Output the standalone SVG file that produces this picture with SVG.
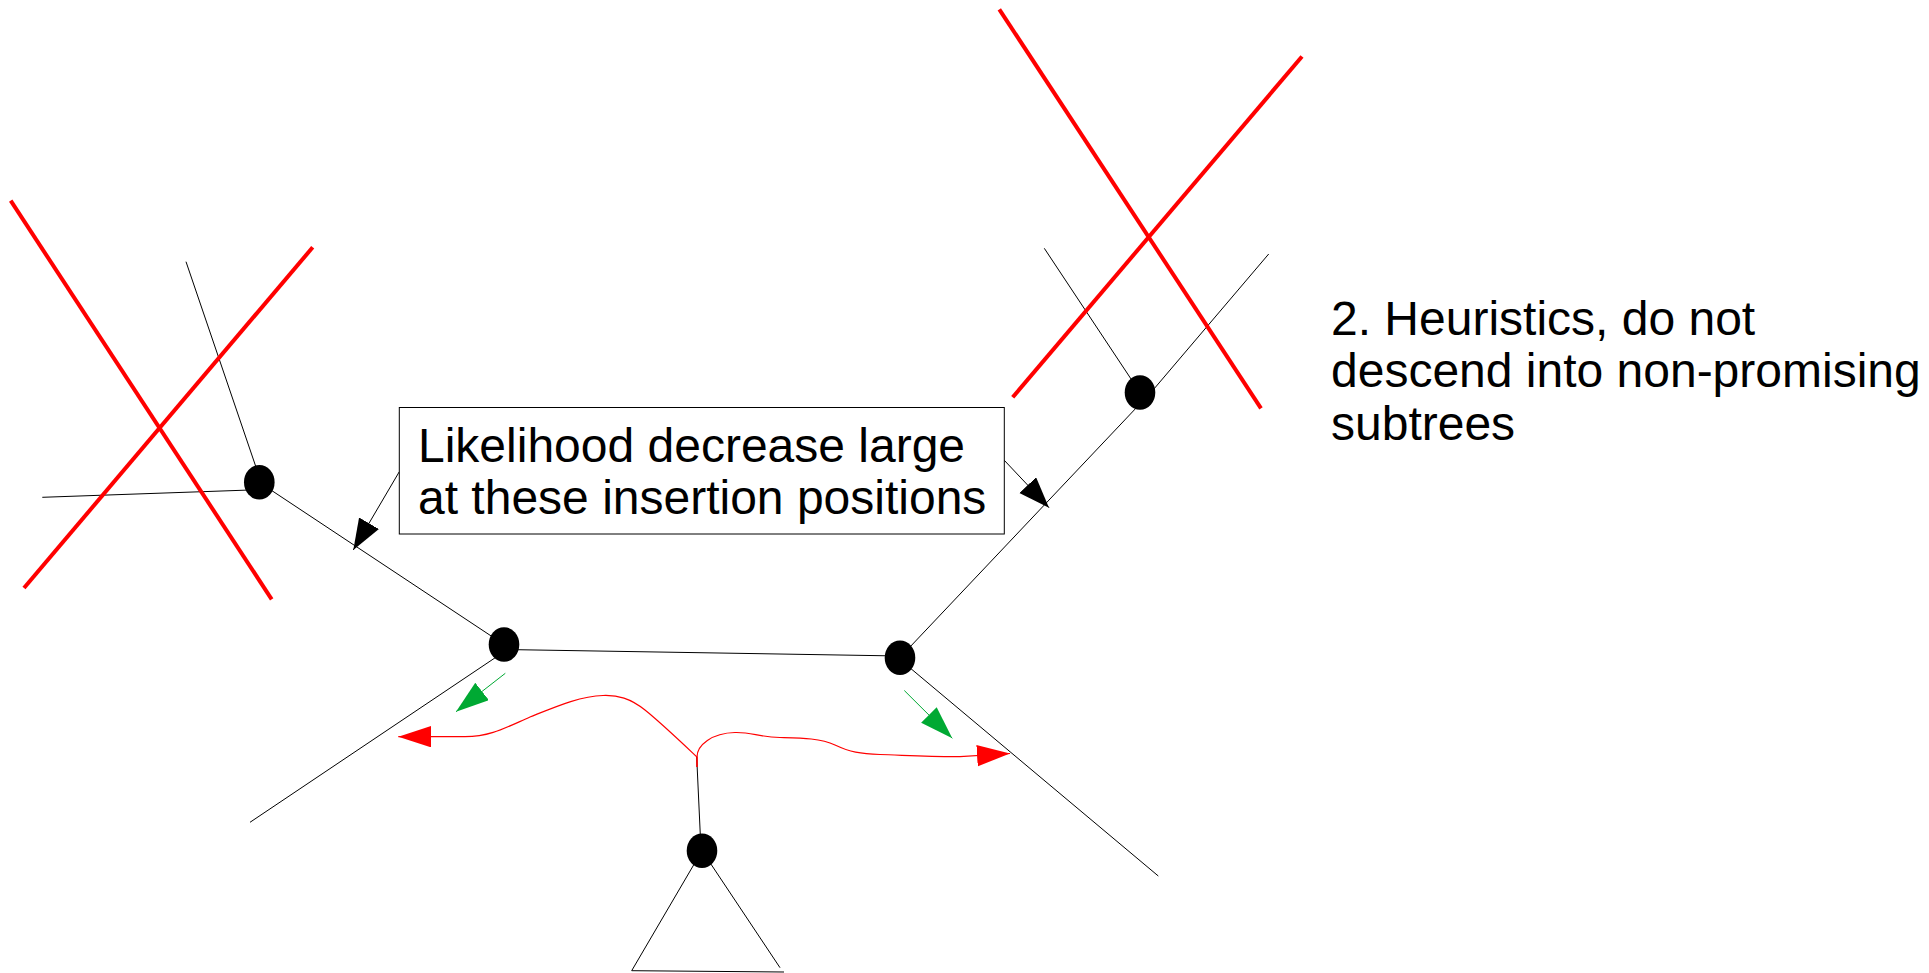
<svg xmlns="http://www.w3.org/2000/svg" width="1929" height="973" viewBox="0 0 1929 973">
  <style>
    .edge { stroke: #000; stroke-width: 1; fill: none; }
    .cross { stroke: #ff0000; stroke-width: 4; fill: none; }
    .node { fill: #000; }
    .label { font-family: "Liberation Sans", Arial, sans-serif; font-size: 48px; fill: #000; }
    .box { fill: #fff; stroke: #000; stroke-width: 1; }
    .pointer { stroke: #000; stroke-width: 1; fill: none; marker-end: url(#headBlack); }
    .move { stroke: #00a933; stroke-width: 1; fill: none; marker-end: url(#headGreen); }
    .path { stroke: #ff0000; stroke-width: 1.2; fill: none; marker-end: url(#headRed); }
  </style>
  <defs>
    <marker id="headBlack" markerUnits="userSpaceOnUse" markerWidth="32" markerHeight="24" refX="31" refY="11.5" orient="auto">
      <path d="M0,0 L31,11.5 L0,23 Z" fill="#000"/>
    </marker>
    <marker id="headGreen" markerUnits="userSpaceOnUse" markerWidth="34" markerHeight="23" refX="33" refY="11" orient="auto">
      <path d="M0,0 L33,11 L0,22 Z" fill="#00a933"/>
    </marker>
    <marker id="headRed" markerUnits="userSpaceOnUse" markerWidth="34" markerHeight="23" refX="33" refY="10.75" orient="auto">
      <path d="M0,0 L33,10.75 L0,21.5 Z" fill="#ff0000"/>
    </marker>
  </defs>

  <rect width="1929" height="973" fill="#fff"/>

  <!-- tree branches -->
  <g id="connectors">
    <line class="edge" x1="186" y1="261.7" x2="259" y2="476"/>
    <line class="edge" x1="42.3" y1="497.3" x2="250" y2="490"/>
    <line class="edge" x1="259.3" y1="482.3" x2="504" y2="644.5"/>
    <line class="edge" x1="505" y1="649.5" x2="900" y2="656"/>
    <line class="edge" x1="500" y1="654.5" x2="250" y2="822.3"/>
    <line class="edge" x1="900" y1="657.5" x2="1138" y2="406"/>
    <line class="edge" x1="900" y1="659.5" x2="1158.3" y2="876"/>
    <line class="edge" x1="1044.3" y1="248.3" x2="1140" y2="392.5"/>
    <line class="edge" x1="1150" y1="393.6" x2="1268.7" y2="254"/>
    <line class="edge" x1="701" y1="850" x2="696.7" y2="757"/>
    <line class="edge" x1="702" y1="850.7" x2="631.7" y2="970.7"/>
    <line class="edge" x1="702" y1="850.7" x2="780" y2="967.7"/>
    <line class="edge" x1="631.7" y1="970.7" x2="784" y2="972"/>

    <!-- callout pointers -->
    <line class="pointer" x1="399.3" y1="471.7" x2="353.3" y2="550"/>
    <line class="pointer" x1="1004" y1="460" x2="1049" y2="507.7"/>

    <!-- descent moves -->
    <line class="move" x1="505.3" y1="673.3" x2="456" y2="711.7"/>
    <line class="move" x1="904.3" y1="690.5" x2="952.3" y2="738.3"/>

    <!-- insertion search paths -->
    <path class="path" d="M697,767 L697,757 C680,741 660,722 645,710 C630,698 618,695 603,695.5 C580,696 555,707 530,717 C505,728 490,736.7 465,736.7 L398.3,736.7"/>
    <path class="path" d="M697,767 L697,757 C697,745 712,733 735,732.5 C752,732 758,737 780,737.5 C800,738 820,738 835,745 C850,752 860,754 880,754.5 C900,755 930,757 960,756.7 L1010,753.5"/>
  </g>

  <!-- pruned subtrees -->
  <g id="pruned-left">
    <line class="cross" x1="10.7" y1="200.7" x2="271.7" y2="599.3"/>
    <line class="cross" x1="312.7" y1="247.3" x2="24" y2="588"/>
  </g>
  <g id="pruned-right">
    <line class="cross" x1="999.3" y1="9.3" x2="1261" y2="408.3"/>
    <line class="cross" x1="1302" y1="56.5" x2="1012.7" y2="397.3"/>
  </g>

  <!-- inner nodes -->
  <g id="node-upper-left"><ellipse class="node" cx="259.3" cy="482.3" rx="15.3" ry="17.3"/></g>
  <g id="node-mid-left"><ellipse class="node" cx="504" cy="644.5" rx="15.3" ry="17.3"/></g>
  <g id="node-mid-right"><ellipse class="node" cx="900" cy="657.7" rx="15.3" ry="17.3"/></g>
  <g id="node-upper-right"><ellipse class="node" cx="1140" cy="392.5" rx="15.3" ry="17.3"/></g>
  <g id="node-bottom"><ellipse class="node" cx="702" cy="850.7" rx="15.3" ry="17.3"/></g>

  <!-- callout box -->
  <g id="callout">
    <rect class="box" x="399.3" y="407.5" width="605" height="126.5"/>
    <text class="label" x="418" y="461.7">Likelihood decrease large</text>
    <text class="label" x="418" y="514">at these insertion positions</text>
  </g>

  <!-- side note -->
  <g id="note">
    <text class="label" x="1331" y="334.5">2. Heuristics, do not</text>
    <text class="label" x="1331" y="387">descend into non-promising</text>
    <text class="label" x="1331" y="439.5">subtrees</text>
  </g>
</svg>
